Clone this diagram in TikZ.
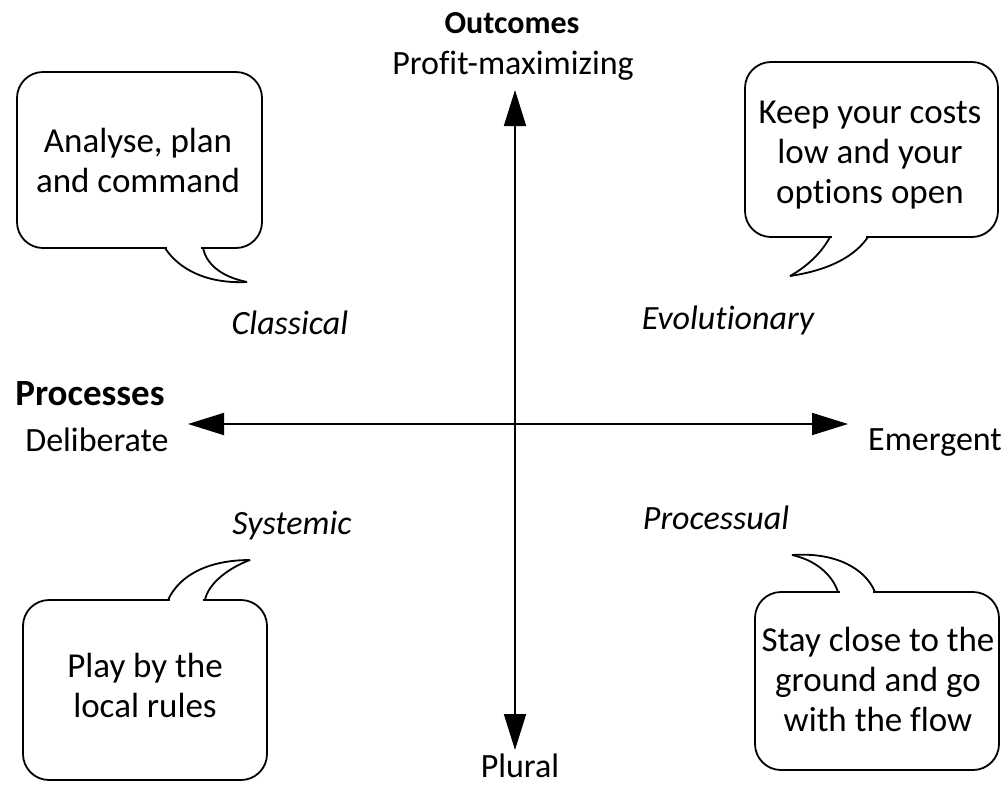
\documentclass[tikz,border=0pt]{standalone}
\usepackage{fontspec}
\setmainfont{Carlito}[Ligatures={NoCommon}]
\usetikzlibrary{arrows.meta}
\begin{document}
\begin{tikzpicture}[x=1pt,y=-1pt,
  axis/.style={line width=1.8pt,{Triangle[length=36pt,width=22pt]}-{Triangle[length=36pt,width=22pt]}},
  bubble/.style={line width=1.8pt,rounded corners=26pt},
  tail/.style={line width=1.8pt},
  saying/.style={font=\fontsize{35}{40}\selectfont,align=center},
  label/.style={font=\fontsize{34}{40}\selectfont,anchor=base,inner sep=0pt},
  heading/.style={label,font=\fontsize{32}{38}\selectfont\bfseries},
  school/.style={label,font=\fontsize{34}{40}\selectfont\itshape}]
\useasboundingbox (0,0) rectangle (1001,788);

% axis end labels
\node[heading] (out) at (512,33) {Outcomes};
\node[label] (profit) at (513,74) {Profit-maximizing};
\node[heading,font=\fontsize{37}{42}\selectfont\bfseries] (proc) at (90,405) {Processes};
\node[label] (delib) at (97,451) {Deliberate};
\node[label] (emer) at (935,450) {Emergent};
\node[label] (plural) at (520,777) {Plural};

% axes
\coordinate (top) at (515,90);
\coordinate (bot) at (515,750);
\coordinate (lft) at (188,424);
\coordinate (rgt) at (848,424);
\draw[axis] (bot) -- (top);
\draw[axis] (lft) -- (rgt);

% school names
\node[school] (classical) at (290,334) {Classical};
\node[school] (evol) at (728,329) {Evolutionary};
\node[school] (systemic) at (292,534) {Systemic};
\node[school] (processual) at (716,529) {Processual};

% top-left bubble
\draw[bubble] (17,72) rectangle (262,248);
\fill[white] (167,244) -- (167,250) -- (201,250) -- (201,244) -- cycle;
\draw[tail] (165,248) .. controls (178,268) and (205,284) .. (247,282);
\draw[tail] (203,248) .. controls (206,262) and (218,276) .. (247,282);
\node[saying] (tl) at (138,160) {Analyse, plan\\and command};

% top-right bubble
\draw[bubble] (745,62) rectangle (998,237);
\fill[white] (832,233) -- (832,239) -- (866,239) -- (866,233) -- cycle;
\draw[tail] (830,237) .. controls (822,252) and (808,266) .. (790,276);
\draw[tail] (868,237) .. controls (855,256) and (830,270) .. (790,276);
\node[saying] (tr) at (870,155) {Keep your costs\\low and your\\options open};

% bottom-left bubble
\draw[bubble] (23,600) rectangle (267,780);
\fill[white] (170,596) -- (170,604) -- (203,604) -- (203,596) -- cycle;
\draw[tail] (168,600) .. controls (180,574) and (210,560) .. (250,560);
\draw[tail] (205,600) .. controls (208,584) and (228,568) .. (250,560);
\node[saying] (bl) at (145,685) {Play by the\\local rules};

% bottom-right bubble
\draw[bubble] (755,592) rectangle (999,770);
\fill[white] (840,588) -- (840,596) -- (873,596) -- (873,588) -- cycle;
\draw[tail] (838,592) .. controls (832,574) and (815,560) .. (792,555);
\draw[tail] (875,592) .. controls (865,568) and (835,552) .. (792,555);
\node[saying] (br) at (878,679) {Stay close to the\\ground and go\\with the flow};
\end{tikzpicture}
\end{document}
